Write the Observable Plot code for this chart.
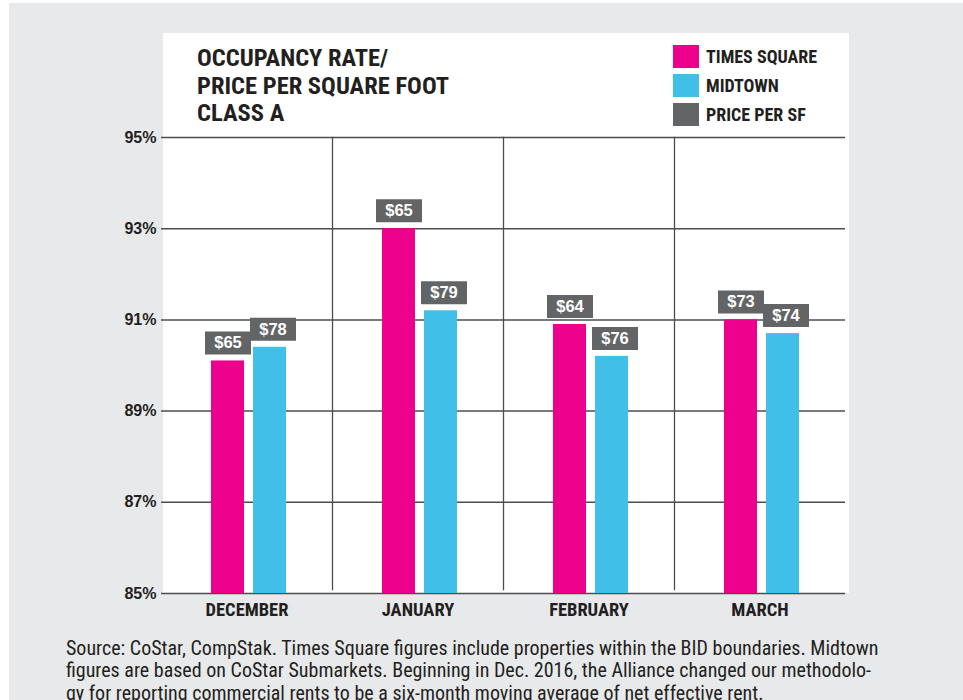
<!DOCTYPE html>
<html>
<head>
<meta charset="utf-8">
<script src="https://cdn.jsdelivr.net/npm/d3@7"></script>
<script src="https://cdn.jsdelivr.net/npm/@observablehq/plot@0.6"></script>
<style>
  html, body { margin: 0; padding: 0; background: #ffffff; }
  body { width: 963px; height: 700px; position: relative; overflow: hidden; }
  .cond { font-family: "Liberation Sans Narrow", "Roboto Condensed", "DejaVu Sans Condensed", "Arial Narrow", sans-serif; font-stretch: condensed; }
  #bg { position: absolute; left: 9px; top: 3px; width: 954px; height: 697px; background: #e8e9eb; }
  #panel { position: absolute; left: 163px; top: 33px; width: 686px; height: 560px; background: #ffffff; }
  #title { position: absolute; left: 197px; top: 44px; font-weight: bold; font-size: 24.5px; line-height: 27.5px; color: #231f20; }
  #legend { position: absolute; left: 673px; top: 45px; }
  .li { display: flex; align-items: center; height: 23px; margin-bottom: 6px; }
  .sw { width: 26px; height: 23px; margin-right: 7px; }
  .lt { font-weight: bold; font-size: 18px; color: #231f20; }
  #chart { position: absolute; left: 0; top: 0; }
  #chart svg { background: transparent; overflow: visible; }
  #caption { position: absolute; left: 66px; top: 637px; font-size: 20px; line-height: 22.3px; color: #231f20; white-space: nowrap; }
  g[aria-label="y-axis tick label"] text { font-family: "Liberation Sans", Arial, sans-serif; font-weight: bold; font-size: 16px; fill: #231f20; }
  g[aria-label="fx-axis tick label"] text { font-family: "Liberation Sans Narrow", "Roboto Condensed", "DejaVu Sans Condensed", sans-serif; font-stretch: condensed; font-weight: bold; font-size: 18.5px; fill: #231f20; }
</style>
</head>
<body>
<div id="bg"></div>
<div id="panel"></div>
<div id="title" class="cond"></div>
<div id="legend" class="cond"></div>
<div id="chart"></div>
<div id="caption" class="cond"></div>
<script>
// ---- data ----
const months = ["DECEMBER", "JANUARY", "FEBRUARY", "MARCH"];
const series = ["TIMES SQUARE", "MIDTOWN"];
const timesSquare = [90.1, 93.0, 90.9, 91.0];     // occupancy rate, %
const midtown = [90.4, 91.2, 90.2, 90.7];         // occupancy rate, %
const timesSquarePrice = [65, 65, 64, 73];        // $ per SF
const midtownPrice = [78, 79, 76, 74];            // $ per SF
const yTicks = [85, 87, 89, 91, 93, 95];
const titleLines = ["OCCUPANCY RATE/", "PRICE PER SQUARE FOOT", "CLASS A"];
const legendItems = ["TIMES SQUARE", "MIDTOWN", "PRICE PER SF"];
const captionLines = [
  "Source: CoStar, CompStak. Times Square figures include properties within the BID boundaries. Midtown",
  "figures are based on CoStar Submarkets. Beginning in Dec. 2016, the Alliance changed our methodolo-",
  "gy for reporting commercial rents to be a six-month moving average of net effective rent."
];

// ---- style ----
const colors = ["#ec008c", "#40bfe8"];
const labelGray = "#636466";
const gridColor = "#4d4d4f";

const rows = [];
months.forEach((m, i) => {
  rows.push({month: m, series: series[0], value: timesSquare[i], price: timesSquarePrice[i]});
  rows.push({month: m, series: series[1], value: midtown[i], price: midtownPrice[i]});
});

document.getElementById("title").innerHTML = titleLines.map(t => `<div>${t}</div>`).join("");
document.getElementById("legend").innerHTML = legendItems.map((t, i) =>
  `<div class="li"><div class="sw" style="background:${[...colors, labelGray][i]}"></div><div class="lt">${t}</div></div>`).join("");
document.getElementById("caption").innerHTML = captionLines.map(t => `<div>${t}</div>`).join("");

const boxSymbol = { draw(ctx) { ctx.rect(-23, -11.5, 46, 23); } };
const labelOpts = (s, dx) => ({
  filter: d => d.series === s, fx: "month", x: "series", y: "value", dy: -18, dx
});

const chart = Plot.plot({
  width: 963,
  height: 625,
  marginTop: 137,
  marginBottom: 32,
  marginLeft: 159,
  marginRight: 117,
  style: {background: "transparent"},
  fx: {domain: months, padding: 0, label: null},
  x: {domain: series, paddingInner: 0.224, paddingOuter: 1.13, align: 0.52, axis: null},
  y: {domain: [yTicks[0], yTicks[yTicks.length - 1]], label: null},
  color: {domain: series, range: colors},
  marks: [
    Plot.gridY(yTicks, {stroke: gridColor, strokeOpacity: 1, strokeWidth: 1.5}),
    ...months.slice(1).map(m => Plot.frame({anchor: "left", fx: () => m, stroke: gridColor, strokeWidth: 1.3, insetBottom: 4})),
    Plot.barY(rows, {fx: "month", x: "series", y1: yTicks[0], y2: "value", fill: "series"}),
    Plot.axisY(yTicks, {tickSize: 0, tickPadding: 5, tickFormat: d => d + "%", label: null}),
    Plot.axisFx({anchor: "bottom", tickSize: 0, tickPadding: 9, label: null}),
    ...series.map((s, i) => Plot.dot(rows, {...labelOpts(s, i * 3), symbol: boxSymbol, fill: labelGray, stroke: null})),
    ...series.map((s, i) => Plot.text(rows, {...labelOpts(s, i * 3), text: d => "$" + d.price, fill: "#ffffff",
      fontWeight: "bold", fontSize: 16.5, fontFamily: "Liberation Sans, Arial, sans-serif"}))
  ]
});
document.getElementById("chart").appendChild(chart);
</script>
</body>
</html>
